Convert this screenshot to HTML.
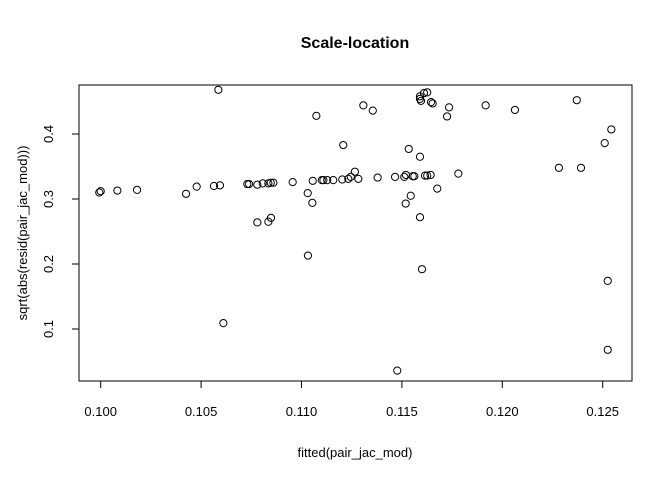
<!DOCTYPE html>
<html><head><meta charset="utf-8"><style>
html,body{margin:0;padding:0;background:#fff;}
svg{display:block;font-family:"Liberation Sans",Arial,sans-serif;}
</style></head><body>
<svg id="chart" width="672" height="480">
<text x="355" y="48" text-anchor="middle" font-size="16" font-weight="bold">Scale-location</text>
<rect x="79" y="85" width="553" height="296" fill="none" stroke="#000" stroke-width="1"/>
<text x="355" y="457" text-anchor="middle" font-size="13">fitted(pair_jac_mod)</text>
<text x="0" y="0" transform="translate(27,233) rotate(-90)" text-anchor="middle" font-size="13">sqrt(abs(resid(pair_jac_mod)))</text>
<g id="xaxis"></g>
<g id="yaxis"></g>
<g id="points"></g>
</svg>
<script>
const xTicks = [0.100, 0.105, 0.110, 0.115, 0.120, 0.125];
const xTickLabels = ["0.100", "0.105", "0.110", "0.115", "0.120", "0.125"];
const yTicks = [0.1, 0.2, 0.3, 0.4];
const yTickLabels = ["0.1", "0.2", "0.3", "0.4"];
const fittedValues = [0.09993,0.1000,0.10083,0.10181,0.10425,0.10478,0.10564,0.10594,0.10586,0.10611,
0.10730,0.10739,0.10780,0.10807,0.10835,0.10847,0.10860,0.10780,0.10835,0.10848,
0.10956,0.11031,0.11054,0.11032,0.11056,0.11074,0.11101,0.11109,0.11128,0.11158,
0.11203,0.11233,0.11245,0.11266,0.11208,0.11283,0.11308,0.11355,0.11379,0.11466,
0.11512,0.11520,0.11554,0.11562,0.11615,0.11626,0.11643,0.11781,0.11534,0.11590,
0.11676,0.11544,0.11519,0.11590,0.11600,0.11477,0.11590,0.11595,0.11590,0.11610,
0.11626,0.11645,0.11653,0.11735,0.11725,0.11917,0.12063,0.12282,0.12392,0.12371,
0.12510,0.12543,0.12525,0.12525];
const sqrtResid = [0.310,0.312,0.313,0.314,0.308,0.319,0.320,0.321,0.468,0.109,
0.323,0.323,0.322,0.324,0.324,0.325,0.325,0.264,0.265,0.271,
0.326,0.309,0.294,0.213,0.328,0.428,0.329,0.329,0.329,0.329,
0.330,0.331,0.334,0.342,0.383,0.331,0.444,0.436,0.333,0.334,
0.334,0.337,0.335,0.335,0.336,0.336,0.337,0.339,0.377,0.365,
0.316,0.305,0.293,0.272,0.192,0.036,0.458,0.451,0.454,0.463,
0.464,0.449,0.447,0.441,0.427,0.444,0.437,0.348,0.348,0.452,
0.386,0.407,0.174,0.068];

const NS = "http://www.w3.org/2000/svg";
function xs(v){ return 100.7 + (v - 0.1) * 20080; }
function ys(v){ return 329 - (v - 0.1) * 650; }
function mk(tag, attrs, parent){
  const e = document.createElementNS(NS, tag);
  for (const k in attrs) e.setAttribute(k, attrs[k]);
  parent.appendChild(e);
  return e;
}
const xg = document.getElementById('xaxis');
mk('line', {x1: xs(xTicks[0]), x2: xs(xTicks[xTicks.length-1]), y1: 381, y2: 381, stroke: '#000'}, xg);
xTicks.forEach((t, i) => {
  const l = mk('line', {x1: xs(t), x2: xs(t), y1: 381, y2: 388, stroke: '#000'}, xg);
  
  
  const tx = mk('text', {x: xs(t), y: 416, 'text-anchor': 'middle', 'font-size': 13}, xg);
  tx.textContent = xTickLabels[i];
  
  
});
const yg = document.getElementById('yaxis');
mk('line', {x1: 79, x2: 79, y1: ys(yTicks[0]), y2: ys(yTicks[yTicks.length-1]), stroke: '#000'}, yg);
yTicks.forEach((t, i) => {
  const l = mk('line', {x1: 72, x2: 79, y1: ys(t), y2: ys(t), stroke: '#000'}, yg);
  
  
  const tx = mk('text', {x: 0, y: 0, transform: 'translate(53,' + ys(t) + ') rotate(-90)', 'text-anchor': 'middle', 'font-size': 13}, yg);
  tx.textContent = yTickLabels[i];
  
  
});
const pg = document.getElementById('points');
fittedValues.forEach((v, i) => {
  const c = mk('circle', {cx: xs(v), cy: ys(sqrtResid[i]), r: 3.6, fill: 'none', stroke: '#000', 'stroke-width': 1}, pg);
  
  
});
</script>
</body></html>
